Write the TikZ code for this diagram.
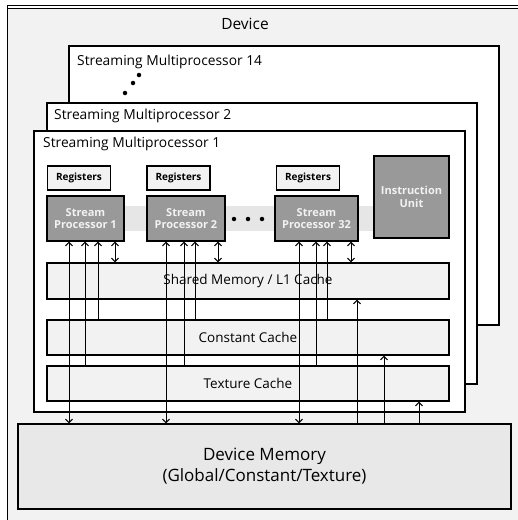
\documentclass[tikz,border=0pt]{standalone}
\usepackage{fontspec}
\setmainfont{Open Sans}
\usetikzlibrary{arrows.meta}
\definecolor{bg}{HTML}{F2F2F2}
\definecolor{band}{HTML}{E6E6E6}
\definecolor{spgray}{HTML}{999999}
\definecolor{dmfill}{HTML}{E8E8E8}
\begin{document}
\begin{tikzpicture}[x=1pt,y=-1pt,
  smbox/.style={draw, line width=1.6pt, fill=white, inner sep=0pt},
  regbox/.style={draw, line width=1.4pt, fill=bg, inner sep=0pt, minimum width=63pt, minimum height=24pt, font=\fontsize{10}{11}\selectfont\bfseries},
  spbox/.style={draw, line width=1.4pt, fill=spgray, inner sep=0pt, minimum height=45pt, text=bg, align=center, font=\fontsize{11}{12.5}\selectfont\bfseries},
  cachebox/.style={draw, line width=1.4pt, fill=bg, inner sep=0pt, minimum width=402pt, minimum height=35pt, font=\fontsize{13.5}{15}\selectfont},
  lbl/.style={anchor=west, inner sep=0pt, font=\fontsize{13.8}{15}\selectfont},
  tip/.style={-{Straight Barb[length=3.5pt,width=7pt]}, line width=1pt},
  dtip/.style={{Straight Barb[length=3.5pt,width=7pt]}-{Straight Barb[length=3.5pt,width=7pt]}, line width=1pt},
  dot/.style={fill, circle, inner sep=0pt, minimum size=4.5pt}
]
\useasboundingbox (0,0) rectangle (518,520);
\fill[white] (0,0) rectangle (518,520);
\fill[bg] (7,8) rectangle (518,520);
\draw[line width=0.8pt] (7,5) -- (518,5);
\draw[line width=0.8pt] (7,8) -- (518,8);
\draw[line width=0.8pt] (7,5) -- (7,520);

\node[inner sep=0pt, font=\fontsize{15.5}{17}\selectfont] (dev) at (245,24) {Device};

\node[smbox, minimum width=430pt, minimum height=279pt] (sm14) at (284,185.5) {};
\node[lbl] (sm14l) at (77,62) {Streaming Multiprocessor 14};
\node[dot] (d1) at (139,75) {};
\node[dot] (d2) at (133,83) {};
\node[dot] (d3) at (125,93) {};

\node[smbox, minimum width=430pt, minimum height=281pt] (sm2) at (262,243.5) {};
\node[lbl] (sm2l) at (54,116) {Streaming Multiprocessor 2};

\node[smbox, minimum width=431pt, minimum height=281pt] (sm1) at (249.5,271.5) {};
\node[lbl] (sm1l) at (43,144) {Streaming Multiprocessor 1};

\fill[band] (47,206) rectangle (374,231);

\node[regbox] (r1) at (79,178) {Registers};
\node[regbox] (r2) at (178.5,178) {Registers};
\node[regbox] (r3) at (308,178) {Registers};

\node[spbox, minimum width=77pt] (sp1) at (85.5,218.5) {Stream\\Processor 1};
\node[spbox, minimum width=78pt] (sp2) at (186,218.5) {Stream\\Processor 2};
\node[spbox, minimum width=83pt] (sp32) at (316.5,218.5) {Stream\\Processor 32};
\node[dot] (e1) at (234,219) {};
\node[dot] (e2) at (248,219) {};
\node[dot] (e3) at (262,219) {};

\node[spbox, minimum width=75pt, minimum height=82pt] (iu) at (411.5,197) {Instruction\\Unit};

\node[cachebox, minimum height=36pt] (sh) at (248,281) {Shared Memory / L1 Cache};
\node[cachebox] (cc) at (248,337.5) {Constant Cache};
\node[cachebox] (tc) at (248,383.5) {Texture Cache};

\node[draw, line width=1.4pt, fill=dmfill, minimum width=493pt, minimum height=85pt, inner sep=0pt, align=center, font=\fontsize{17}{21}\selectfont] (dm) at (264.5,466.5) {Device Memory\\(Global/Constant/Texture)};

% SP1
\draw[dtip] (69,0 |- sp1.south) -- (69,0 |- dm.north);
\draw[tip] (85,0 |- tc.north) -- (85,0 |- sp1.south);
\draw[tip] (98,0 |- cc.north) -- (98,0 |- sp1.south);
\draw[dtip] (115,0 |- sp1.south) -- (115,0 |- sh.north);
% SP2
\draw[dtip] (166,0 |- sp2.south) -- (166,0 |- dm.north);
\draw[tip] (184,0 |- tc.north) -- (184,0 |- sp2.south);
\draw[tip] (195,0 |- cc.north) -- (195,0 |- sp2.south);
\draw[dtip] (218,0 |- sp2.south) -- (218,0 |- sh.north);
% SP32
\draw[dtip] (299,0 |- sp32.south) -- (299,0 |- dm.north);
\draw[tip] (316,0 |- tc.north) -- (316,0 |- sp32.south);
\draw[tip] (327,0 |- cc.north) -- (327,0 |- sp32.south);
\draw[dtip] (351,0 |- sp32.south) -- (351,0 |- sh.north);
% from device memory
\draw[tip] (357,0 |- dm.north) -- (357,0 |- sh.south);
\draw[tip] (384,0 |- dm.north) -- (384,0 |- cc.south);
\draw[tip] (419,0 |- dm.north) -- (419,0 |- tc.south);
\end{tikzpicture}
\end{document}
